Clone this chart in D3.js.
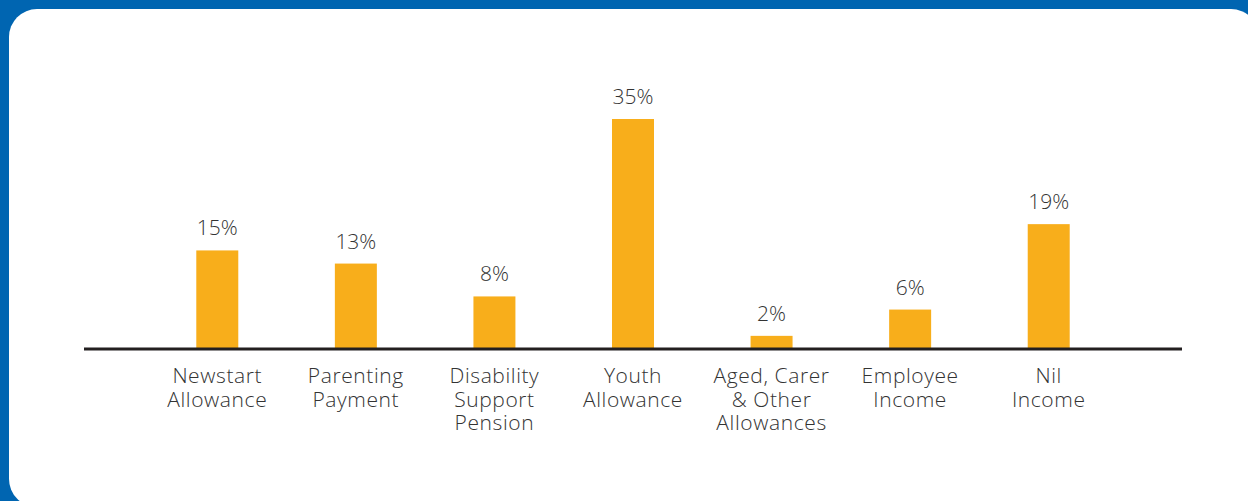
<!DOCTYPE html>
<html>
<head>
<meta charset="utf-8">
<script src="https://cdn.jsdelivr.net/npm/d3@7/dist/d3.min.js"></script>
<style>
  html, body { margin: 0; padding: 0; background: #0065b1; }
  svg { display: block; }
</style>
</head>
<body>
<svg id="chart" width="1248" height="501"></svg>
<script>
// Income source shares
const categories = [
  ["Newstart", "Allowance"],
  ["Parenting", "Payment"],
  ["Disability", "Support", "Pension"],
  ["Youth", "Allowance"],
  ["Aged, Carer", "& Other", "Allowances"],
  ["Employee", "Income"],
  ["Nil", "Income"]
];
const values = [15, 13, 8, 35, 2, 6, 19];
const valueLabels = ["15%", "13%", "8%", "35%", "2%", "6%", "19%"];

const W = 1248, H = 501;
const svg = d3.select("#chart");

// Blue frame and white rounded panel
svg.append("rect").attr("x", 0).attr("y", 0).attr("width", W).attr("height", H).attr("fill", "#0065b1");
svg.append("rect")
  .attr("x", 9).attr("y", 9)
  .attr("width", 1250).attr("height", 498)
  .attr("rx", 28).attr("ry", 28)
  .attr("fill", "#ffffff");

const keys = categories.map(c => c.join(" "));
const baseY = 349;

const x = d3.scaleBand()
  .domain(keys)
  .range([148, 1118])
  .paddingInner(0.697)
  .paddingOuter(0.3485);

const y = d3.scaleLinear()
  .domain([0, 35])
  .range([baseY, 119]);

const font = "'Open Sans', 'Noto Sans', sans-serif";
const cx = i => x(keys[i]) + x.bandwidth() / 2;

// Bars
svg.append("g").selectAll("rect")
  .data(values)
  .join("rect")
  .attr("x", (d, i) => x(keys[i]))
  .attr("y", d => y(d))
  .attr("width", x.bandwidth())
  .attr("height", d => y(0) - y(d))
  .attr("fill", "#f8ae1b");

// Value labels
svg.append("g").selectAll("text")
  .data(values)
  .join("text")
  .attr("x", (d, i) => cx(i))
  .attr("y", d => y(d) - 15)
  .attr("text-anchor", "middle")
  .attr("font-family", font)
  .attr("font-weight", 300)
  .attr("font-size", 21)
  .attr("fill", "#333333")
  .text((d, i) => valueLabels[i]);

// Baseline
svg.append("line")
  .attr("x1", 84).attr("x2", 1182)
  .attr("y1", baseY).attr("y2", baseY)
  .attr("stroke", "#231f20")
  .attr("stroke-width", 3);

// Category labels, one text element per line
const lineItems = categories.flatMap((lines, i) =>
  lines.map((t, j) => ({ t, i, j })));

svg.append("g").selectAll("text")
  .data(lineItems)
  .join("text")
  .attr("x", d => cx(d.i))
  .attr("y", d => 383 + d.j * 23.5)
  .attr("text-anchor", "middle")
  .attr("font-family", font)
  .attr("font-weight", 300)
  .attr("font-size", 21)
  .attr("letter-spacing", 0.6)
  .attr("fill", "#333333")
  .text(d => d.t);
</script>
</body>
</html>
